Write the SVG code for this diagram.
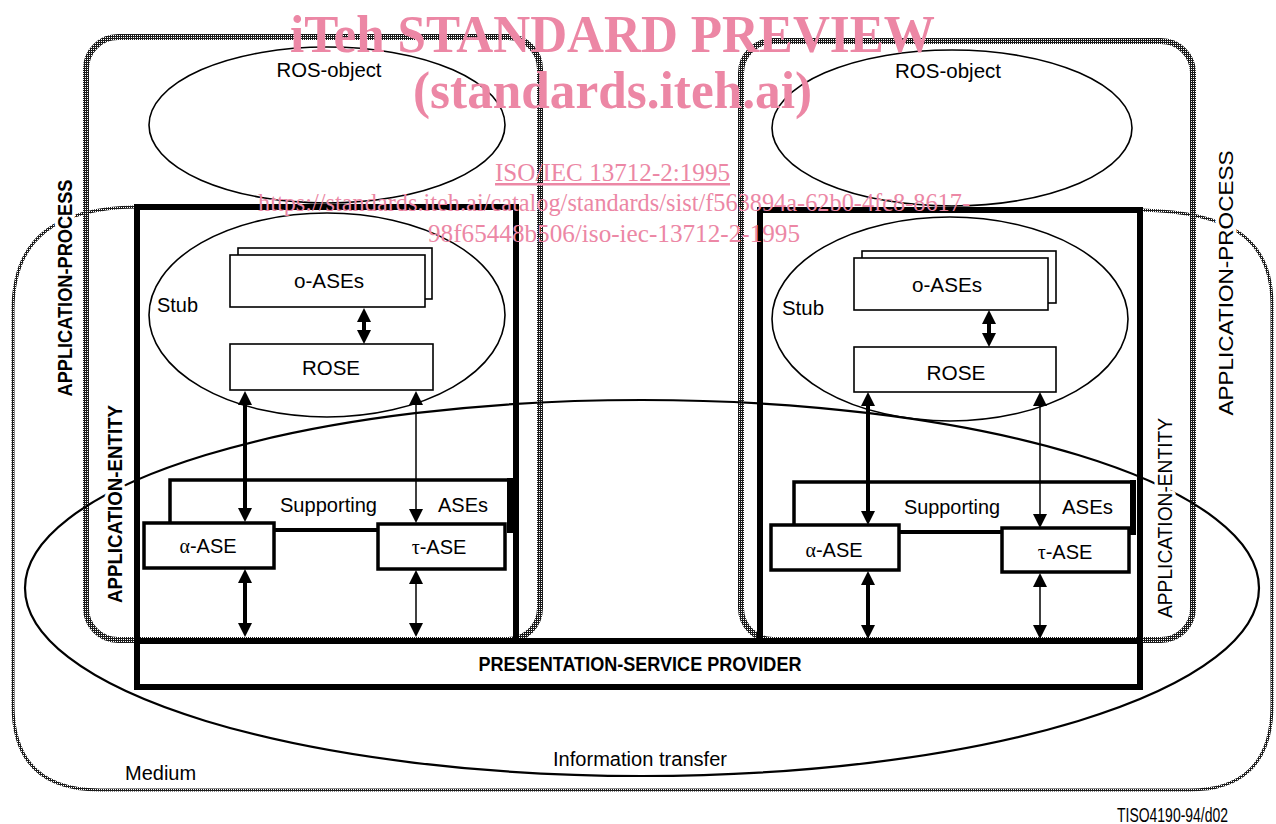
<svg xmlns="http://www.w3.org/2000/svg" width="1276" height="824" viewBox="0 0 1276 824">
<defs>
<pattern id="ht" patternUnits="userSpaceOnUse" width="2" height="2">
<rect width="2" height="2" fill="#1a1a1a"/>
<rect x="1" y="1" width="1" height="1" fill="#ffffff"/>
</pattern>
<style>
.ap{fill:none;stroke:url(#ht);stroke-width:6}
.md{fill:none;stroke:url(#ht);stroke-width:3}
.ae{fill:none;stroke:#000;stroke-width:6}
.el{fill:none;stroke:#000;stroke-width:1.6}
.it{fill:none;stroke:#000;stroke-width:2.2}
.bx{fill:#fff;stroke:#000;stroke-width:1.6}
.bx3{fill:#fff;stroke:#000;stroke-width:3.5}
.sp{fill:none;stroke:#000;stroke-width:3.5}
.thk{stroke:#000;stroke-width:4;fill:none}
.thn{stroke:#000;stroke-width:1.5;fill:none}
.hd{fill:#000}
.t{font-family:"Liberation Sans",Arial,sans-serif;font-size:20px;fill:#000}
.g{font-family:"Liberation Serif","Times New Roman",serif}
.b{font-weight:bold}
.halo{paint-order:stroke;stroke:#fff;stroke-width:7;stroke-linejoin:round}
.wm{font-family:"Liberation Serif","Times New Roman",serif;fill:#ec87a5}
</style>
</defs>
<rect width="1276" height="824" fill="#fff"/>

<g id="medium">
<path class="md" d="M136,207 C60,208 13,235 13,310 L13,705 C13,760 40,790 100,790 L1190,790 C1240,790 1272,765 1272,705 L1272,305 C1272,238 1230,212 1141,210"/>
<text class="t" x="125" y="780">Medium</text>
</g>

<g id="application-process-left">
<rect class="ap" x="86" y="37" width="454" height="603" rx="32"/>
</g>
<g id="application-process-right">
<rect class="ap" x="741" y="41" width="452" height="599" rx="32"/>
</g>

<g id="ros-object-left">
<ellipse class="el" cx="327" cy="125" rx="178" ry="78"/>
<text class="t" x="329" y="77" text-anchor="middle" textLength="105" lengthAdjust="spacingAndGlyphs">ROS-object</text>
</g>
<g id="ros-object-right">
<ellipse class="el" cx="952" cy="128" rx="180" ry="78"/>
<text class="t" x="948" y="78" text-anchor="middle" textLength="106" lengthAdjust="spacingAndGlyphs">ROS-object</text>
</g>

<g id="information-transfer">
<ellipse class="it" cx="642" cy="588" rx="617" ry="188"/>
<text class="t" x="640" y="766" text-anchor="middle" textLength="174" lengthAdjust="spacingAndGlyphs">Information transfer</text>
</g>

<g id="stub-left">
<ellipse class="el" cx="327" cy="315" rx="178" ry="102"/>
<text class="t" x="157" y="312" textLength="41" lengthAdjust="spacingAndGlyphs">Stub</text>
</g>
<g id="stub-right">
<ellipse class="el" cx="950" cy="319" rx="178" ry="102"/>
<text class="t" x="782" y="315" textLength="42" lengthAdjust="spacingAndGlyphs">Stub</text>
</g>

<g id="o-ases-left">
<rect class="bx" x="238" y="248" width="194" height="51"/>
<rect class="bx" x="230" y="255" width="195" height="52"/>
<text class="t" x="329" y="288" text-anchor="middle" textLength="70" lengthAdjust="spacingAndGlyphs">o-ASEs</text>
</g>
<g id="rose-left">
<rect class="bx" x="230" y="344" width="203" height="46"/>
<text class="t" x="331" y="375" text-anchor="middle" textLength="58" lengthAdjust="spacingAndGlyphs">ROSE</text>
</g>
<g id="o-ases-right">
<rect class="bx" x="862" y="251" width="194" height="52"/>
<rect class="bx" x="854" y="258" width="194" height="52"/>
<text class="t" x="947" y="292" text-anchor="middle" textLength="70" lengthAdjust="spacingAndGlyphs">o-ASEs</text>
</g>
<g id="rose-right">
<rect class="bx" x="854" y="347" width="202" height="45"/>
<text class="t" x="956" y="380" text-anchor="middle" textLength="59" lengthAdjust="spacingAndGlyphs">ROSE</text>
</g>

<g id="supporting-ases-left">
<path class="sp" d="M170,523 V480 H510"/>
<path d="M510,478 V533" stroke="#000" stroke-width="6" fill="none"/>
<line x1="273" y1="530" x2="378" y2="530" stroke="#000" stroke-width="4"/>
<text class="t" x="280" y="512" textLength="97" lengthAdjust="spacingAndGlyphs">Supporting</text>
<text class="t" x="438" y="512" textLength="50" lengthAdjust="spacingAndGlyphs">ASEs</text>
</g>
<g id="alpha-ase-left">
<rect class="bx3" x="144" y="523" width="130" height="45"/>
<text class="t" x="208" y="553" text-anchor="middle"><tspan class="g">α</tspan>-ASE</text>
</g>
<g id="tau-ase-left">
<rect class="bx3" x="378" y="524" width="127" height="45"/>
<text class="t" x="439" y="554" text-anchor="middle"><tspan class="g">τ</tspan>-ASE</text>
</g>

<g id="supporting-ases-right">
<path class="sp" d="M794,526 V482 H1133"/>
<path d="M1133,480 V535" stroke="#000" stroke-width="6" fill="none"/>
<line x1="898" y1="532" x2="1002" y2="532" stroke="#000" stroke-width="4"/>
<text class="t" x="904" y="514" textLength="96" lengthAdjust="spacingAndGlyphs">Supporting</text>
<text class="t" x="1062" y="514" textLength="51" lengthAdjust="spacingAndGlyphs">ASEs</text>
</g>
<g id="alpha-ase-right">
<rect class="bx3" x="771" y="525" width="128" height="45"/>
<text class="t" x="834" y="557" text-anchor="middle"><tspan class="g">α</tspan>-ASE</text>
</g>
<g id="tau-ase-right">
<rect class="bx3" x="1002" y="528" width="127" height="44"/>
<text class="t" x="1065" y="559" text-anchor="middle"><tspan class="g">τ</tspan>-ASE</text>
</g>

<g id="application-entity-left">
<path class="ae" d="M137,688 V207 H516 V641"/>
</g>
<g id="application-entity-right">
<path class="ae" d="M760,641 V210 H1140 V688"/>
</g>
<g id="presentation-service-provider">
<rect class="ae" x="137" y="641" width="1003" height="46"/>
<text class="t b" x="640" y="671" text-anchor="middle" font-size="18" textLength="323" lengthAdjust="spacingAndGlyphs">PRESENTATION-SERVICE PROVIDER</text>
</g>

<g id="connectors">
<line class="thk" x1="364" y1="318" x2="364" y2="334"/>
<polygon class="hd" points="364,308 357,322 371,322"/>
<polygon class="hd" points="364,344 357,330 371,330"/>
<line class="thk" x1="245" y1="400" x2="245" y2="513"/>
<polygon class="hd" points="245,391 238,405 252,405"/>
<polygon class="hd" points="245,522 238,508 252,508"/>
<line class="thn" x1="416" y1="400" x2="416" y2="514"/>
<polygon class="hd" points="416,391 409,405 423,405"/>
<polygon class="hd" points="416,523 409,509 423,509"/>
<line class="thk" x1="245" y1="577" x2="245" y2="628"/>
<polygon class="hd" points="245,569 238,583 252,583"/>
<polygon class="hd" points="245,637 238,623 252,623"/>
<line class="thn" x1="416" y1="577" x2="416" y2="628"/>
<polygon class="hd" points="416,570 409,584 423,584"/>
<polygon class="hd" points="416,637 409,623 423,623"/>

<line class="thk" x1="989" y1="320" x2="989" y2="337"/>
<polygon class="hd" points="989,310 982,324 996,324"/>
<polygon class="hd" points="989,347 982,333 996,333"/>
<line class="thk" x1="868" y1="401" x2="868" y2="516"/>
<polygon class="hd" points="868,392 861,406 875,406"/>
<polygon class="hd" points="868,525 861,511 875,511"/>
<line class="thn" x1="1040" y1="401" x2="1040" y2="519"/>
<polygon class="hd" points="1040,392 1033,406 1047,406"/>
<polygon class="hd" points="1040,528 1033,514 1047,514"/>
<line class="thk" x1="868" y1="579" x2="868" y2="630"/>
<polygon class="hd" points="868,571 861,585 875,585"/>
<polygon class="hd" points="868,639 861,625 875,625"/>
<line class="thn" x1="1040" y1="581" x2="1040" y2="630"/>
<polygon class="hd" points="1040,573 1033,587 1047,587"/>
<polygon class="hd" points="1040,639 1033,625 1047,625"/>
</g>

<g id="labels">
<text class="t b halo" transform="translate(72,288) rotate(-90)" text-anchor="middle" font-size="23" textLength="217" lengthAdjust="spacingAndGlyphs">APPLICATION-PROCESS</text>
<text class="t b halo" transform="translate(122,504) rotate(-90)" text-anchor="middle" font-size="23" textLength="198" lengthAdjust="spacingAndGlyphs">APPLICATION-ENTITY</text>
<text class="t halo" transform="translate(1233,283) rotate(-90)" text-anchor="middle" font-size="23" textLength="265" lengthAdjust="spacingAndGlyphs">APPLICATION-PROCESS</text>
<text class="t halo" transform="translate(1172,518) rotate(-90)" text-anchor="middle" font-size="23" textLength="200" lengthAdjust="spacingAndGlyphs">APPLICATION-ENTITY</text>
<text class="t" x="1117" y="822" font-size="15" textLength="111" lengthAdjust="spacingAndGlyphs">TISO4190-94/d02</text>
</g>

<g id="watermark">
<text class="wm" x="290" y="52" font-size="52" font-weight="bold" textLength="645" lengthAdjust="spacingAndGlyphs">iTeh STANDARD PREVIEW</text>
<text class="wm" x="413" y="108" font-size="52" font-weight="bold" textLength="399" lengthAdjust="spacingAndGlyphs">(standards.iteh.ai)</text>
<text class="wm" x="495" y="181" font-size="25" textLength="235" lengthAdjust="spacingAndGlyphs" text-decoration="underline">ISO/IEC 13712-2:1995</text>
<text class="wm" x="258" y="211" font-size="25" textLength="712" lengthAdjust="spacingAndGlyphs">https://standards.iteh.ai/catalog/standards/sist/f563894a-62b0-4fc8-8617-</text>
<text class="wm" x="428" y="242" font-size="25" textLength="372" lengthAdjust="spacingAndGlyphs">98f65448b506/iso-iec-13712-2-1995</text>
</g>
</svg>
